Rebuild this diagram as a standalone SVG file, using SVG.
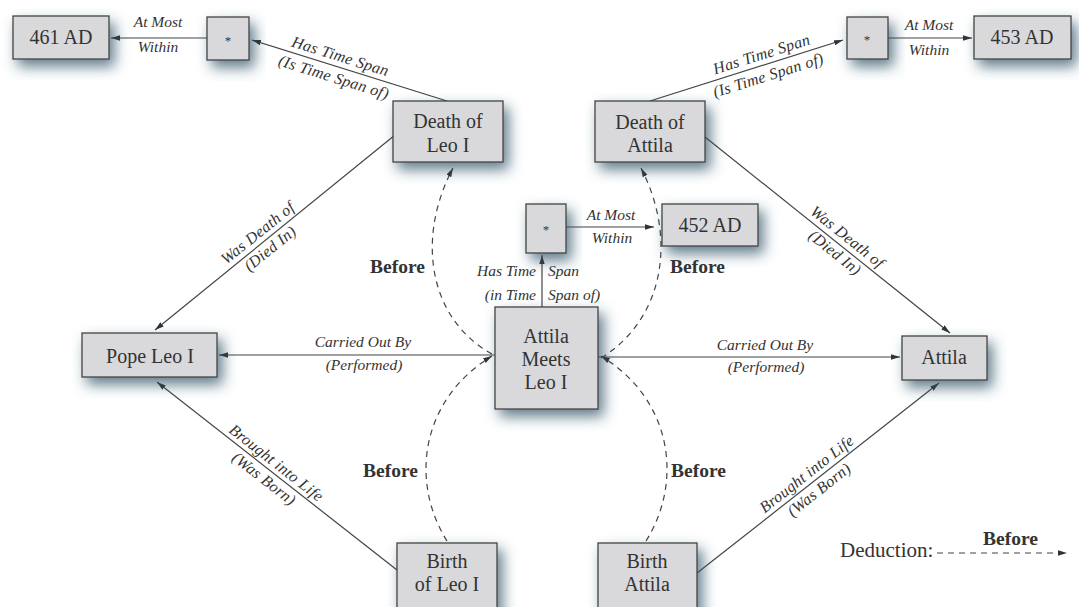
<svg xmlns="http://www.w3.org/2000/svg" width="1079" height="607" viewBox="0 0 1079 607">
<defs>
<filter id="sh" x="-40%" y="-40%" width="180%" height="190%">
<feDropShadow dx="5" dy="7" stdDeviation="7" flood-color="#2f5266" flood-opacity="0.75"/>
</filter>
<marker id="ah" viewBox="0 0 10 6" refX="10" refY="3" markerWidth="9" markerHeight="5.4" markerUnits="userSpaceOnUse" orient="auto">
<path d="M0,0 L10,3 L0,6 z" fill="#333"/>
</marker>
</defs>
<style>
.box{fill:#d9d9db;stroke:#444;stroke-width:1.3;filter:url(#sh)}
.nt{font-family:"Liberation Serif",serif;font-size:20px;fill:#333;text-anchor:middle}
.st{font-family:"Liberation Serif",serif;font-size:13px;fill:#333;text-anchor:middle}
.el{font-family:"Liberation Serif",serif;font-style:italic;font-size:15.5px;fill:#333;text-anchor:middle}
.rl{font-family:"Liberation Serif",serif;font-style:italic;font-size:16px;letter-spacing:0.3px;fill:#333;text-anchor:middle}
.bf{font-family:"Liberation Serif",serif;font-weight:bold;font-size:19.5px;fill:#333}
.ln{stroke:#444;stroke-width:1.2;fill:none}
.dl{stroke:#444;stroke-width:1.2;fill:none;stroke-dasharray:6,5}
</style>
<rect width="1079" height="607" fill="#ffffff"/>

<g id="connectors">
<line class="ln" x1="207" y1="38" x2="111" y2="38" marker-end="url(#ah)"/>
<text class="el" x="158" y="27">At Most</text>
<text class="el" x="158" y="52">Within</text>

<line class="ln" x1="447" y1="101" x2="252" y2="40" marker-end="url(#ah)"/>
<g transform="translate(337,67) rotate(17.4)">
<text class="rl" x="0" y="-6">Has Time Span</text>
<text class="rl" x="0" y="16">(Is Time Span of)</text>
</g>

<line class="ln" x1="650" y1="101" x2="843" y2="40" marker-end="url(#ah)"/>
<g transform="translate(765,65) rotate(-17.5)">
<text class="rl" x="0" y="-6">Has Time Span</text>
<text class="rl" x="0" y="16">(Is Time Span of)</text>
</g>

<line class="ln" x1="888" y1="38" x2="972" y2="38" marker-end="url(#ah)"/>
<text class="el" x="929" y="30">At Most</text>
<text class="el" x="929" y="55">Within</text>

<line class="ln" x1="566" y1="227" x2="654" y2="227" marker-end="url(#ah)"/>
<text class="el" x="611" y="220">At Most</text>
<text class="el" x="612" y="243">Within</text>

<line class="ln" x1="542" y1="307" x2="542" y2="255" marker-end="url(#ah)"/>
<text class="el"><tspan x="536" y="276" text-anchor="end">Has Time</tspan><tspan x="548" y="276" text-anchor="start">Span</tspan></text>
<text class="el"><tspan x="536" y="300" text-anchor="end">(in Time</tspan><tspan x="548" y="300" text-anchor="start">Span of)</tspan></text>

<line class="ln" x1="495" y1="355" x2="219" y2="355" marker-end="url(#ah)"/>
<text class="el" x="363" y="347">Carried Out By</text>
<text class="el" x="364" y="370">(Performed)</text>

<line class="ln" x1="598" y1="357" x2="900" y2="357" marker-end="url(#ah)"/>
<text class="el" x="765" y="350">Carried Out By</text>
<text class="el" x="766" y="372">(Performed)</text>

<line class="ln" x1="395" y1="135" x2="155" y2="330" marker-end="url(#ah)"/>
<g transform="translate(264,241) rotate(-38.9)">
<text class="rl" x="0" y="-5">Was Death of</text>
<text class="rl" x="0" y="15">(Died In)</text>
</g>

<line class="ln" x1="397" y1="570" x2="157" y2="382" marker-end="url(#ah)"/>
<g transform="translate(270,471) rotate(38)">
<text class="rl" x="0" y="-5">Brought into Life</text>
<text class="rl" x="0" y="15">(Was Born)</text>
</g>

<line class="ln" x1="705" y1="137" x2="950" y2="333" marker-end="url(#ah)"/>
<g transform="translate(841,245) rotate(38.5)">
<text class="rl" x="0" y="-5">Was Death of</text>
<text class="rl" x="0" y="15">(Died In)</text>
</g>

<line class="ln" x1="697" y1="573" x2="939" y2="383" marker-end="url(#ah)"/>
<g transform="translate(813,482) rotate(-38.1)">
<text class="rl" x="0" y="-5">Brought into Life</text>
<text class="rl" x="0" y="15">(Was Born)</text>
</g>

<path class="dl" d="M447,541 C410,482 420,400 492,356" marker-end="url(#ah)"/>
<path class="dl" d="M492,354 C430,320 415,240 453,168" marker-end="url(#ah)"/>
<path class="dl" d="M646,541 C683,482 673,400 601,356" marker-end="url(#ah)"/>
<path class="dl" d="M601,358 C663,320 678,240 641,168" marker-end="url(#ah)"/>

<text class="bf" x="370" y="273">Before</text>
<text class="bf" x="670" y="273">Before</text>
<text class="bf" x="363" y="477">Before</text>
<text class="bf" x="671" y="477">Before</text>
</g>

<g id="legend">
<text x="840" y="557" style="font-family:'Liberation Serif',serif;font-size:21px;fill:#333">Deduction:</text>
<line class="dl" x1="937" y1="553" x2="1067" y2="553" marker-end="url(#ah)"/>
<text class="bf" x="983" y="545">Before</text>
</g>

<g id="n461"><rect class="box" x="13" y="16" width="96" height="43"/><text class="nt" x="61" y="44">461 AD</text></g>
<g id="starL"><rect class="box" x="207" y="17" width="42" height="43"/><text class="st" x="228" y="45">*</text></g>
<g id="deathLeo"><rect class="box" x="393" y="101" width="110" height="61"/><text class="nt" x="448" y="128">Death of</text><text class="nt" x="448" y="152">Leo I</text></g>
<g id="deathAttila"><rect class="box" x="595" y="101" width="110" height="61"/><text class="nt" x="650" y="129">Death of</text><text class="nt" x="650" y="152">Attila</text></g>
<g id="starR"><rect class="box" x="847" y="17" width="41" height="42"/><text class="st" x="867" y="44">*</text></g>
<g id="n453"><rect class="box" x="974" y="16" width="97" height="43"/><text class="nt" x="1022" y="44">453 AD</text></g>
<g id="starC"><rect class="box" x="526" y="204" width="40" height="49"/><text class="st" x="546" y="234">*</text></g>
<g id="n452"><rect class="box" x="662" y="204" width="96" height="42"/><text class="nt" x="710" y="232">452 AD</text></g>
<g id="meet"><rect class="box" x="495" y="307" width="103" height="102"/><text class="nt" x="546" y="343">Attila</text><text class="nt" x="546" y="366">Meets</text><text class="nt" x="546" y="389">Leo I</text></g>
<g id="pope"><rect class="box" x="82" y="333" width="135" height="44"/><text class="nt" x="150" y="363">Pope Leo I</text></g>
<g id="attila"><rect class="box" x="902" y="336" width="85" height="44"/><text class="nt" x="944" y="364">Attila</text></g>
<g id="birthLeo"><rect class="box" x="397" y="543" width="100" height="80"/><text class="nt" x="447" y="568">Birth</text><text class="nt" x="447" y="591">of Leo I</text></g>
<g id="birthAttila"><rect class="box" x="598" y="543" width="99" height="80"/><text class="nt" x="647" y="568">Birth</text><text class="nt" x="647" y="591">Attila</text></g>
</svg>
